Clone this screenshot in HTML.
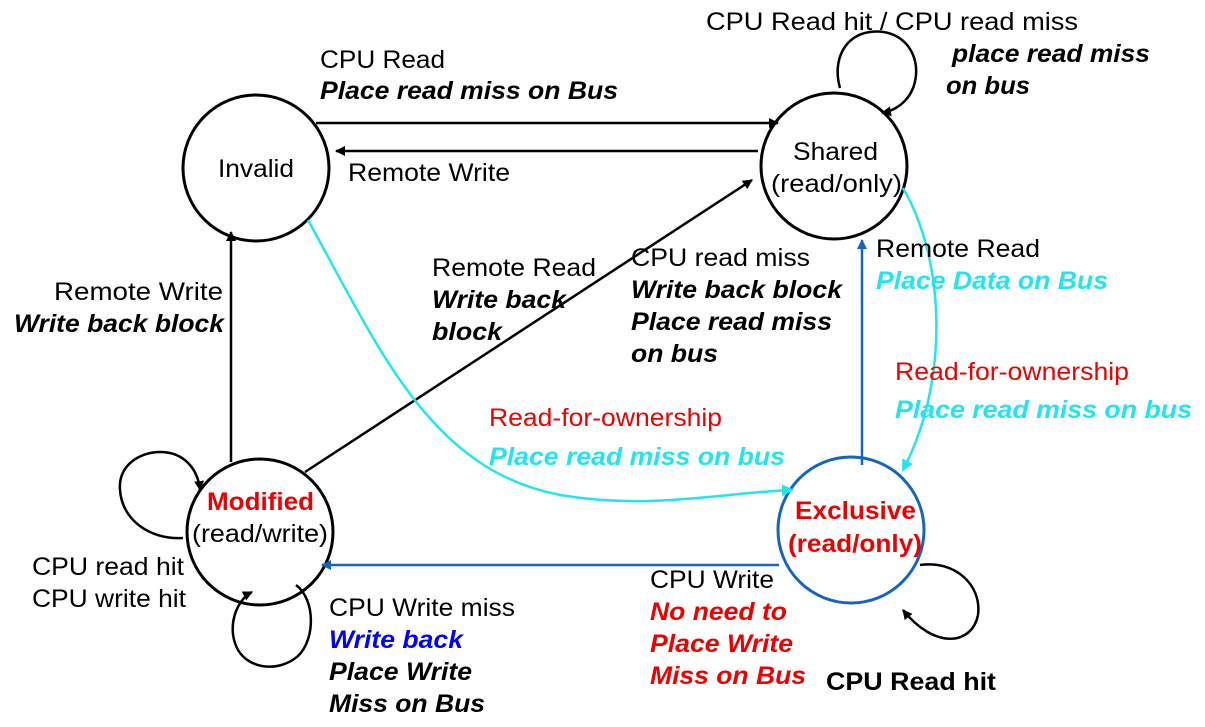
<!DOCTYPE html>
<html><head><meta charset="utf-8"><style>
html,body{margin:0;padding:0;background:#fff;}
svg{display:block;}
text{font-family:"Liberation Sans",Arial,sans-serif;font-size:25px;}
.b{font-weight:bold;font-style:italic;}
</style></head><body>
<svg width="1205" height="727" viewBox="0 0 1205 727" xmlns="http://www.w3.org/2000/svg">
<defs>
<marker id="ak" markerWidth="10" markerHeight="10" refX="9" refY="5" orient="auto" markerUnits="userSpaceOnUse"><path d="M0,0 L10,5 L0,10 z" fill="#000"/></marker>
<marker id="ab" markerWidth="10" markerHeight="10" refX="9" refY="5" orient="auto" markerUnits="userSpaceOnUse"><path d="M0,0 L10,5 L0,10 z" fill="#1565c0"/></marker>
<marker id="ac" markerWidth="12" markerHeight="12" refX="10" refY="6" orient="auto" markerUnits="userSpaceOnUse"><path d="M0,0 L12,6 L0,12 z" fill="#22e5ee"/></marker>
</defs>
<g fill="none" stroke-width="3">
<circle cx="256" cy="168" r="73" stroke="#000"/>
<circle cx="834" cy="166" r="73" stroke="#000"/>
<circle cx="260" cy="532" r="73" stroke="#000"/>
<circle cx="851" cy="530" r="73" stroke="#1565c0"/>
</g>
<g stroke="#000" stroke-width="2.5" fill="none">
<line x1="316" y1="123" x2="778" y2="123" marker-end="url(#ak)"/>
<line x1="758" y1="151" x2="336" y2="151" marker-end="url(#ak)"/>
<line x1="231" y1="462" x2="231" y2="232" marker-end="url(#ak)"/>
<line x1="305" y1="472" x2="752" y2="180" marker-end="url(#ak)"/>
<path d="M183,538 C150,540 122,520 120,490 C118,465 140,452 160,452 C185,452 198,470 200,490" marker-end="url(#ak)"/>
<path d="M296,585 C316,600 315,640 298,656 C280,672 250,670 238,650 C226,628 236,600 252,592" marker-end="url(#ak)"/>
<path d="M840,88 C832,60 845,35 870,32 C900,28 918,50 916,75 C914,98 898,110 882,113" marker-end="url(#ak)"/>
<path d="M920,565 C955,560 982,585 978,615 C972,645 935,650 903,610" marker-end="url(#ak)"/>
</g>
<g stroke="#1565c0" stroke-width="2.5" fill="none">
<line x1="862" y1="465" x2="862" y2="240" marker-end="url(#ab)"/>
<line x1="779" y1="565" x2="322" y2="565" marker-end="url(#ab)"/>
</g>
<g stroke="#22e5ee" stroke-width="2.5" fill="none">
<path d="M308,220 C380,350 430,470 560,495 C650,510 720,493 792,490" marker-end="url(#ac)"/>
<path d="M903,188 C945,260 950,380 903,470" marker-end="url(#ac)"/>
</g>
<g lengthAdjust="spacingAndGlyphs">
<text x="218" y="177" textLength="76" lengthAdjust="spacingAndGlyphs">Invalid</text>
<text x="793" y="160" textLength="85" lengthAdjust="spacingAndGlyphs">Shared</text>
<text x="771" y="192" textLength="131" lengthAdjust="spacingAndGlyphs">(read/only)</text>
<text x="207" y="510" fill="#e00" font-weight="bold" textLength="107" lengthAdjust="spacingAndGlyphs">Modified</text>
<text x="192" y="542" textLength="136" lengthAdjust="spacingAndGlyphs">(read/write)</text>
<text x="795" y="519" fill="#e00" font-weight="bold" textLength="121" lengthAdjust="spacingAndGlyphs">Exclusive</text>
<text x="788" y="552" fill="#e00" font-weight="bold" textLength="134" lengthAdjust="spacingAndGlyphs">(read/only)</text>
<text x="320" y="68" textLength="125" lengthAdjust="spacingAndGlyphs">CPU Read</text>
<text x="320" y="99" class="b" textLength="298" lengthAdjust="spacingAndGlyphs">Place read miss on Bus</text>
<text x="348" y="181" textLength="162" lengthAdjust="spacingAndGlyphs">Remote Write</text>
<text x="706" y="30" textLength="372" lengthAdjust="spacingAndGlyphs">CPU Read hit /  CPU read miss</text>
<text x="952" y="62" class="b" textLength="198" lengthAdjust="spacingAndGlyphs">place read miss</text>
<text x="946" y="94" class="b" textLength="84" lengthAdjust="spacingAndGlyphs">on bus</text>
<text x="54" y="300" textLength="169" lengthAdjust="spacingAndGlyphs">Remote  Write</text>
<text x="14" y="332" class="b" textLength="210" lengthAdjust="spacingAndGlyphs">Write back block</text>
<text x="432" y="276" textLength="164" lengthAdjust="spacingAndGlyphs">Remote Read</text>
<text x="432" y="308" class="b" textLength="134" lengthAdjust="spacingAndGlyphs">Write back</text>
<text x="432" y="340" class="b" textLength="70" lengthAdjust="spacingAndGlyphs">block</text>
<text x="631" y="266" textLength="179" lengthAdjust="spacingAndGlyphs">CPU read miss</text>
<text x="631" y="298" class="b" textLength="211" lengthAdjust="spacingAndGlyphs">Write back block</text>
<text x="631" y="330" class="b" textLength="201" lengthAdjust="spacingAndGlyphs">Place read miss</text>
<text x="631" y="362" class="b" textLength="87" lengthAdjust="spacingAndGlyphs">on bus</text>
<text x="876" y="257" textLength="164" lengthAdjust="spacingAndGlyphs">Remote Read</text>
<text x="876" y="289" class="b" fill="#22e5ee" textLength="232" lengthAdjust="spacingAndGlyphs">Place Data on Bus</text>
<text x="895" y="380" fill="#e00" textLength="234" lengthAdjust="spacingAndGlyphs">Read-for-ownership</text>
<text x="895" y="418" class="b" fill="#22e5ee" textLength="297" lengthAdjust="spacingAndGlyphs">Place read miss on bus</text>
<text x="489" y="426" fill="#e00" textLength="233" lengthAdjust="spacingAndGlyphs">Read-for-ownership</text>
<text x="489" y="465" class="b" fill="#22e5ee" textLength="296" lengthAdjust="spacingAndGlyphs">Place read miss on bus</text>
<text x="32" y="575" textLength="152" lengthAdjust="spacingAndGlyphs">CPU read hit</text>
<text x="32" y="607" textLength="154" lengthAdjust="spacingAndGlyphs">CPU write hit</text>
<text x="329" y="616" textLength="186" lengthAdjust="spacingAndGlyphs">CPU Write miss</text>
<text x="329" y="648" class="b" fill="#00f" textLength="134" lengthAdjust="spacingAndGlyphs">Write back</text>
<text x="329" y="680" class="b" textLength="143" lengthAdjust="spacingAndGlyphs">Place Write</text>
<text x="329" y="712" class="b" textLength="156" lengthAdjust="spacingAndGlyphs">Miss on Bus</text>
<text x="650" y="588" textLength="124" lengthAdjust="spacingAndGlyphs">CPU Write</text>
<text x="650" y="620" class="b" fill="#e00" textLength="137" lengthAdjust="spacingAndGlyphs">No need to</text>
<text x="650" y="652" class="b" fill="#e00" textLength="143" lengthAdjust="spacingAndGlyphs">Place Write</text>
<text x="650" y="684" class="b" fill="#e00" textLength="156" lengthAdjust="spacingAndGlyphs">Miss on Bus</text>
<text x="826" y="690" font-weight="bold" textLength="170" lengthAdjust="spacingAndGlyphs">CPU Read hit</text>
</g>
</svg>
</body></html>
